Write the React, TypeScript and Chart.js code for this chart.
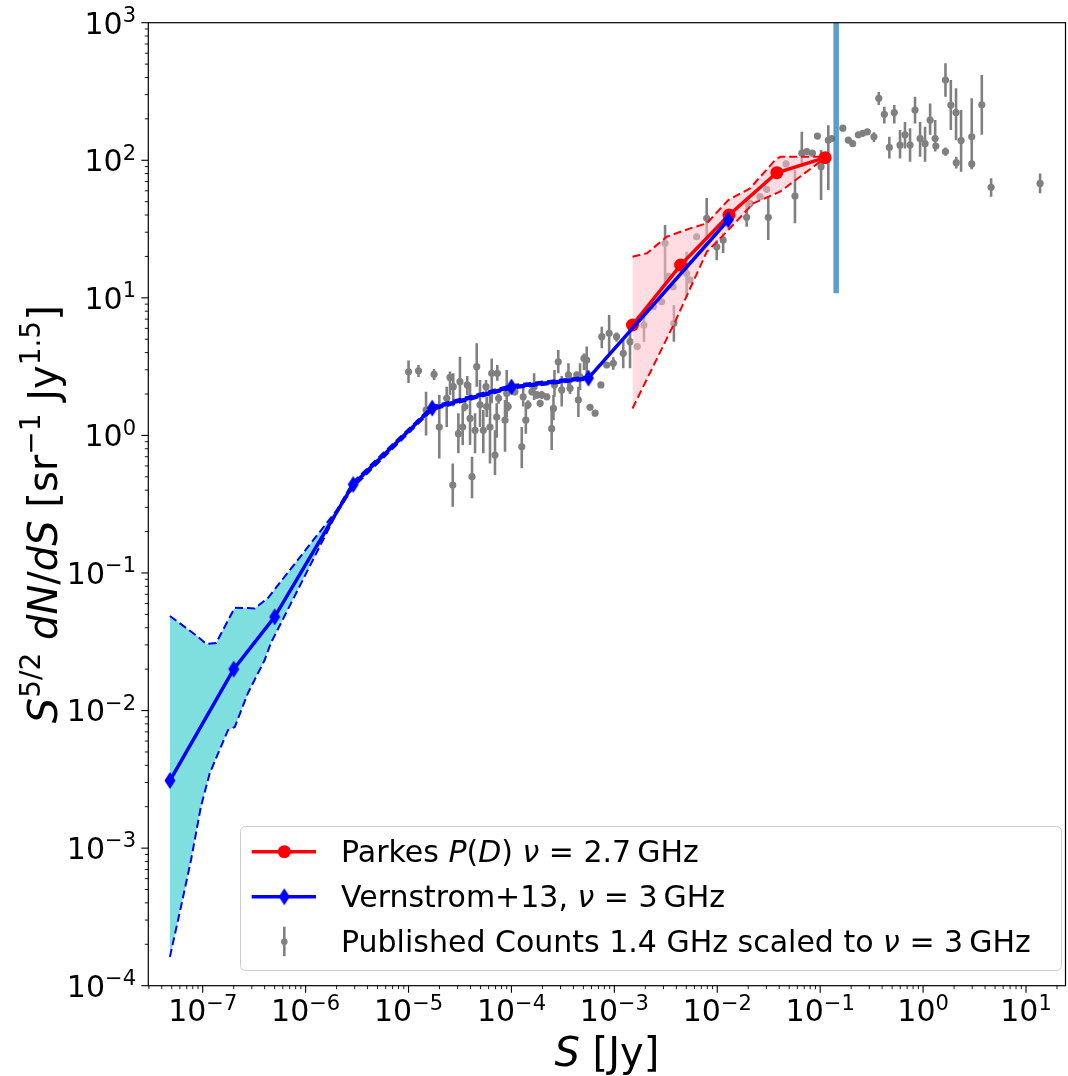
import React, { useEffect, useRef } from 'react';
import { Chart, registerables } from 'chart.js';

Chart.register(...registerables);

const W = 1068;
const H = 1076;

// ---------- axis ranges / tick labels ----------
const xMin = 2.96e-8;
const xMax = 24.2;
const yMin = 1e-4;
const yMax = 1e3;
const xDecades = [-7, -6, -5, -4, -3, -2, -1, 0, 1];
const yDecades = [-4, -3, -2, -1, 0, 1, 2, 3];

// ---------- Vernstrom+13 (3 GHz) ----------
const vernS = [4.8e-8, 2.0e-7, 5.0e-7, 2.9e-6, 1.7e-5, 1.0e-4, 5.6e-4, 1.28e-2];
const vernV = [3.1e-3, 0.020, 0.048, 0.44, 1.58, 2.25, 2.61, 36.8];

const vernUpS = [4.8e-8, 9.0e-8, 1.08e-7, 1.35e-7, 2.05e-7, 3.2e-7, 4.3e-7, 2.0e-6, 2.9e-6, 1.7e-5, 1.0e-4, 5.6e-4];
const vernUpV = [0.0487, 0.0344, 0.0305, 0.031, 0.056, 0.0553, 0.0658, 0.285, 0.46, 1.63, 2.32, 2.68];

const vernLoS = [4.8e-8, 6.15e-8, 7.7e-8, 9.6e-8, 1.17e-7, 1.76e-7, 2.05e-7, 2.75e-7, 4.0e-7, 4.6e-7, 2.0e-6, 2.9e-6, 1.7e-5, 1.0e-4, 5.6e-4];
const vernLoV = [1.62e-4, 3.75e-4, 8.2e-4, 2.0e-3, 3.5e-3, 7.2e-3, 7.6e-3, 0.0134, 0.0233, 0.031, 0.272, 0.42, 1.53, 2.19, 2.55];

// ---------- Parkes P(D) (2.7 GHz) ----------
const parkS = [1.5e-3, 4.4e-3, 1.30e-2, 3.79e-2, 0.1117];
const parkV = [6.35, 17.3, 40.0, 81.2, 104.4];

const parkUpS = [1.5e-3, 2.07e-3, 3.23e-3, 5.45e-3, 7.9e-3, 1.28e-2, 2.08e-2, 3.65e-2, 4.1e-2, 0.1, 0.1117];
const parkUpV = [19.9, 21.1, 27.8, 32, 34.8, 51.4, 62.5, 100.5, 106, 106, 104.4];

const parkLoS = [1.5e-3, 3.89e-3, 7.9e-3, 1.28e-2, 1.78e-2, 2.24e-2, 4.07e-2, 0.1, 0.1117];
const parkLoV = [1.57, 6.7, 21.6, 31.1, 40.5, 48.7, 59.1, 97.7, 104.4];

// ---------- vertical marker ----------
const vlineS = [0.143, 0.143];
const vlineV = [10.8, 1000];

// ---------- Published counts (1.4 GHz scaled to 3 GHz) ----------
const pubS = [
  1.0e-5, 1.25e-5, 1.77e-5, 1.48e-5, 1.99e-5, 2.35e-5, 2.53e-5, 2.69e-5, 3.16e-5, 3.05e-5,
  3.36e-5, 3.72e-5, 3.96e-5, 4.14e-5, 4.6e-5, 4.95e-5, 5.66e-5, 5.33e-5, 6.19e-5, 6.43e-5,
  6.92e-5, 7.29e-5, 7.5e-5, 8.66e-5, 9.0e-5, 9.3e-5, 1.26e-4, 1.30e-4, 1.38e-4, 1.45e-4,
  1.66e-4, 1.77e-4, 1.97e-4, 2.46e-4, 2.56e-4, 2.62e-4, 2.85e-4, 3.08e-4, 3.58e-4, 3.71e-4,
  4.47e-4, 4.64e-4, 5.07e-4, 5.39e-4, 5.8e-4, 6.5e-4, 7.4e-4, 7.55e-4, 8.9e-4, 8.43e-4,
  9.77e-4, 1.05e-3, 1.22e-3, 1.42e-3, 2.72e-5, 3.53e-5, 4.43e-5, 5.75e-5, 7.19e-5, 1.08e-4,
  1.58e-4, 1.90e-4, 2.21e-4, 4.31e-4, 1.67e-3, 1.94e-3, 2.39e-3, 2.88e-3, 3.11e-3, 3.35e-3,
  3.73e-3, 3.79e-3, 5.04e-3, 5.43e-3, 6.3e-3, 7.89e-3, 9.88e-3, 1.14e-2, 1.93e-2, 2.08e-2,
  2.6e-2, 3.02e-2, 3.13e-2, 4.66e-2, 5.69e-2, 6.63e-2, 7.4e-2, 8.4e-2, 9.4e-2, 0.102,
  0.12, 0.129, 0.166, 0.188, 0.207, 0.235, 0.259, 0.287, 0.333, 0.371,
  0.42, 0.525, 0.47, 0.597, 0.667, 0.747, 0.835, 0.935, 1.045, 1.17,
  1.31, 1.33, 1.65, 1.65, 1.86, 2.09, 2.1, 2.34, 2.97, 2.97,
  3.72, 4.58, 13.7,
];
const pubV = [
  2.9, 2.95, 2.78, 1.53, 1.15, 1.86, 2.64, 0.436, 2.46, 1.03,
  1.15, 2.33, 1.33, 0.501, 3.16, 1.67, 2.26, 1.09, 1.15, 2.83,
  0.72, 2.83, 1.86, 1.29, 2.02, 1.62, 0.827, 1.91, 1.29, 1.67,
  2.26, 1.97, 1.97, 1.12, 1.57, 2.33, 3.43, 2.14, 2.75, 2.2,
  1.81, 2.67, 3.63, 3.53, 1.60, 1.45, 2.33, 5.22, 5.52, 3.25,
  3.34, 5.22, 3.95, 4.8, 2.26, 1.62, 1.09, 1.62, 1.36, 2.08,
  2.08, 1.71, 1.91, 2.75, 4.42, 6.35, 8.63, 9.37, 24.9, 14.3,
  12.05, 6.53, 15.0, 13.5, 27.8, 37.9, 23.5, 26.3, 38.5, 48.6,
  54.4, 61.5, 38.5, 94.1, 55.0, 112.6, 115.7, 112.6, 150, 89.9,
  140, 144, 171, 140, 132, 153, 157, 161, 148, 282,
  216, 222, 124, 129, 153, 129, 232, 144, 132, 196,
  144, 127, 383, 115.7, 252, 222, 96.1, 139, 148, 94.1,
  253, 63.6, 67.9,
];
const pubLo = [
  2.4, 2.66, 2.53, 1.0, 0.68, 1.15, 1.97, 0.303, 1.81, 0.741,
  0.85, 1.97, 0.851, 0.349, 2.26, 1.15, 2.03, 0.741, 0.626, 1.71,
  0.515, 2.5, 1.7, 0.76, 1.36, 1.5, 0.576, 1.62, 1.03, 1.55,
  1.81, 1.85, 1.85, 0.783, 1.29, 1.91, 2.83, 1.62, 2.26, 2.0,
  1.36, 2.14, 2.99, 2.67, 1.60, 1.45, 2.33, 4.3, 3.95, 3.25,
  3.0, 4.8, 3.08, 3.08, 1.62, 1.5, 0.741, 1.36, 0.96, 1.95,
  1.95, 1.6, 1.8, 2.6, 4.42, 4.8, 8.2, 8.9, 12.05, 13.5,
  11.4, 4.8, 10.2, 12.8, 26.5, 26.3, 18.8, 21.2, 32.9, 46,
  52, 58, 26.3, 90, 34.8, 89.9, 110, 107, 143, 51.4,
  60.8, 137, 163, 133, 125, 146, 149, 153, 136, 252,
  185, 185, 103, 103, 122, 97.7, 185, 106, 97.7, 153,
  115.7, 121, 290, 108, 166, 140, 87, 82.6, 92.5, 86,
  153, 54.4, 57.5,
];
const pubHi = [
  3.5, 3.25, 3.04, 2.08, 1.97, 2.26, 2.91, 0.626, 3.73, 1.45,
  1.59, 2.7, 2.39, 0.70, 4.67, 2.53, 2.53, 1.53, 2.14, 3.63,
  1.09, 3.25, 2.0, 1.81, 2.99, 1.75, 1.15, 2.26, 1.62, 1.8,
  2.83, 2.1, 2.1, 1.57, 1.97, 2.99, 4.18, 2.7, 3.34, 2.4,
  2.26, 3.34, 3.94, 4.42, 1.60, 1.45, 2.33, 6.17, 7.51, 3.25,
  3.7, 5.6, 4.94, 5.84, 2.83, 1.75, 1.45, 1.91, 1.71, 2.2,
  2.2, 1.82, 2.02, 2.9, 4.42, 7.77, 9.1, 9.9, 33.9, 15.1,
  12.7, 8.87, 21.6, 14.2, 29.2, 53.1, 26.3, 29.5, 51.4, 51,
  57, 65, 54.4, 98, 84.9, 161, 121, 118, 157, 119,
  180, 151, 179, 147, 139, 160, 165, 169, 160, 313,
  245, 252, 148, 166, 190, 171, 290, 190, 175, 259,
  196, 133, 507, 124, 383, 334, 106, 232, 282, 103,
  417, 73.9, 80.3,
];

// ---------- styling ----------
const FAM = '"DejaVu Sans"';
const R = (s: number) => `${s}px ${FAM}`;
const I = (s: number) => `italic ${s}px ${FAM}`;
const RED = '#ff0000';
const BLUE = '#0000ff';
const GREY = '#808080';
const CYAN_FILL = 'rgba(0,191,191,0.5)';
const PINK_FILL = 'rgba(255,192,203,0.55)';
const VLINE = 'rgba(31,119,180,0.72)';

function decadeExp(v: number): number | null {
  if (!(v > 0)) return null;
  const e = Math.log10(v);
  const r = Math.round(e);
  if (Math.abs(e - r) > 1e-6) return null;
  return r;
}
const expText = (e: number) => (e < 0 ? '\u2212' + String(-e) : String(e));

const pts = (xs: number[], ys: number[]) => xs.map((x, i) => ({ x, y: ys[i] }));

type Part = { t: string; f: string; dy?: number };
function richWidth(ctx: CanvasRenderingContext2D, parts: Part[]) {
  let w = 0;
  for (const p of parts) {
    ctx.font = p.f;
    w += ctx.measureText(p.t).width;
  }
  return w;
}
function rich(ctx: CanvasRenderingContext2D, parts: Part[], x: number, y: number) {
  let cx = x;
  for (const p of parts) {
    ctx.font = p.f;
    ctx.fillText(p.t, cx, y + (p.dy || 0));
    cx += ctx.measureText(p.t).width;
  }
}

function makeDiamond(): HTMLCanvasElement {
  const c = document.createElement('canvas');
  c.width = 12;
  c.height = 18;
  const g = c.getContext('2d')!;
  g.fillStyle = BLUE;
  g.beginPath();
  g.moveTo(6, 0.5);
  g.lineTo(11.5, 9);
  g.lineTo(6, 17.5);
  g.lineTo(0.5, 9);
  g.closePath();
  g.fill();
  return c;
}

export default function App() {
  const ref = useRef<HTMLCanvasElement>(null);

  useEffect(() => {
    document.body.style.margin = '0';
    const canvas = ref.current!;
    const diamond = makeDiamond();

    const errData: any[] = [];
    pubS.forEach((s, i) => {
      errData.push({ x: s, y: pubLo[i] });
      errData.push({ x: s, y: pubHi[i] });
      errData.push({ x: s, y: null });
    });

    const decor = {
      id: 'decor',
      afterDraw(chart: any) {
        const ctx: CanvasRenderingContext2D = chart.ctx;
        const a = chart.chartArea;
        const xs = chart.scales.x;
        const ys = chart.scales.y;
        ctx.save();
        ctx.strokeStyle = '#000';
        // x tick marks
        for (let e = -8; e <= 2; e++) {
          for (let m = 1; m <= 9; m++) {
            const v = m * Math.pow(10, e);
            if (v < xs.min || v > xs.max) continue;
            const px = xs.getPixelForValue(v);
            const len = m === 1 ? 7 : 3.5;
            ctx.lineWidth = m === 1 ? 1.1 : 0.9;
            ctx.beginPath();
            ctx.moveTo(px, a.bottom);
            ctx.lineTo(px, a.bottom + len);
            ctx.stroke();
          }
        }
        // y tick marks
        for (let e = -5; e <= 3; e++) {
          for (let m = 1; m <= 9; m++) {
            const v = m * Math.pow(10, e);
            if (v < ys.min * 0.999 || v > ys.max * 1.001) continue;
            const py = ys.getPixelForValue(v);
            const len = m === 1 ? 7 : 3.5;
            ctx.lineWidth = m === 1 ? 1.1 : 0.9;
            ctx.beginPath();
            ctx.moveTo(a.left, py);
            ctx.lineTo(a.left - len, py);
            ctx.stroke();
          }
        }
        // frame
        ctx.lineWidth = 1.2;
        ctx.strokeRect(a.left, a.top, a.right - a.left, a.bottom - a.top);

        ctx.fillStyle = '#000';
        ctx.textBaseline = 'alphabetic';
        ctx.textAlign = 'left';

        // tick labels (from the scale's own ticks)
        for (const t of xs.ticks) {
          const e = decadeExp(t.value);
          if (e === null || !xDecades.includes(e)) continue;
          const parts: Part[] = [
            { t: '10', f: R(30) },
            { t: expText(e), f: R(21), dy: -11.5 },
          ];
          const w = richWidth(ctx, parts);
          rich(ctx, parts, xs.getPixelForValue(t.value) - w / 2, 1021);
        }
        for (const t of ys.ticks) {
          const e = decadeExp(t.value);
          if (e === null || !yDecades.includes(e)) continue;
          const parts: Part[] = [
            { t: '10', f: R(30) },
            { t: expText(e), f: R(21), dy: -11.5 },
          ];
          const w = richWidth(ctx, parts);
          rich(ctx, parts, 136 - w, ys.getPixelForValue(t.value) + 10.8);
        }

        // axis titles
        const xt: Part[] = [
          { t: 'S', f: I(40) },
          { t: ' [Jy]', f: R(40) },
        ];
        const xw = richWidth(ctx, xt);
        rich(ctx, xt, (a.left + a.right) / 2 - xw / 2, 1066);

        const yt: Part[] = [
          { t: 'S', f: I(40) },
          { t: '5/2', f: R(28), dy: -17 },
          { t: ' ', f: R(40) },
          { t: 'dN', f: I(40) },
          { t: '/', f: R(40) },
          { t: 'dS', f: I(40) },
          { t: ' [sr', f: R(40) },
          { t: '\u22121', f: R(28), dy: -17 },
          { t: ' Jy', f: R(40) },
          { t: '1.5', f: R(28), dy: -17 },
          { t: ']', f: R(40) },
        ];
        const yw = richWidth(ctx, yt);
        ctx.save();
        ctx.translate(57, (a.top + a.bottom) / 2 + 10);
        ctx.rotate(-Math.PI / 2);
        rich(ctx, yt, -yw / 2, 0);
        ctx.restore();

        // legend
        const bx = 240.5, by = 826.5, bw = 821, bh = 144;
        ctx.beginPath();
        (ctx as any).roundRect(bx, by, bw, bh, 5);
        ctx.fillStyle = 'rgba(255,255,255,0.8)';
        ctx.fill();
        ctx.strokeStyle = '#cccccc';
        ctx.lineWidth = 1;
        ctx.stroke();

        const hx0 = 251.7, hx1 = 316, hc = 284.3, tx = 341;
        const rows = [851.7, 896.7, 941.7];
        ctx.strokeStyle = RED;
        ctx.lineWidth = 3.5;
        ctx.beginPath();
        ctx.moveTo(hx0, rows[0]);
        ctx.lineTo(hx1, rows[0]);
        ctx.stroke();
        ctx.fillStyle = RED;
        ctx.beginPath();
        ctx.arc(hc, rows[0], 6.5, 0, Math.PI * 2);
        ctx.fill();
        ctx.strokeStyle = BLUE;
        ctx.beginPath();
        ctx.moveTo(hx0, rows[1]);
        ctx.lineTo(hx1, rows[1]);
        ctx.stroke();
        ctx.drawImage(diamond, hc - diamond.width / 2, rows[1] - diamond.height / 2);
        ctx.strokeStyle = GREY;
        ctx.lineWidth = 2.6;
        ctx.beginPath();
        ctx.moveTo(hc, rows[2] - 15);
        ctx.lineTo(hc, rows[2] + 14.5);
        ctx.stroke();
        ctx.fillStyle = GREY;
        ctx.beginPath();
        ctx.arc(hc, rows[2], 3.3, 0, Math.PI * 2);
        ctx.fill();

        ctx.fillStyle = '#000';
        const off = 10;
        rich(ctx, [
          { t: 'Parkes ', f: R(30) },
          { t: 'P', f: I(30) },
          { t: '(', f: R(30) },
          { t: 'D', f: I(30) },
          { t: ')', f: R(30) },
          { t: ' ', f: R(30) },
          { t: '\u03BD', f: I(30) },
          { t: ' = ', f: R(30) },
          { t: '2.7', f: R(30) },
          { t: '\u2009', f: R(30) },
          { t: 'GHz', f: R(30) },
        ], tx, rows[0] + off);
        rich(ctx, [
          { t: 'Vernstrom+13, ', f: R(30) },
          { t: '\u03BD', f: I(30) },
          { t: ' = ', f: R(30) },
          { t: '3', f: R(30) },
          { t: '\u2009', f: R(30) },
          { t: 'GHz', f: R(30) },
        ], tx, rows[1] + off);
        rich(ctx, [
          { t: 'Published Counts 1.4 GHz scaled to ', f: R(30) },
          { t: '\u03BD', f: I(30) },
          { t: ' = ', f: R(30) },
          { t: '3', f: R(30) },
          { t: '\u2009', f: R(30) },
          { t: 'GHz', f: R(30) },
        ], tx, rows[2] + off);
        ctx.restore();
      },
    };

    const chart = new Chart(canvas, {
      type: 'line',
      data: {
        datasets: [
          {
            label: 'vline',
            data: pts(vlineS, vlineV),
            borderColor: VLINE,
            borderWidth: 5.5,
            pointRadius: 0,
            fill: false,
            order: 0,
          },
          {
            label: 'Vernstrom+13',
            data: pts(vernS, vernV),
            borderColor: BLUE,
            backgroundColor: BLUE,
            borderWidth: 3.5,
            pointStyle: diamond as any,
            pointRadius: 6,
            fill: false,
            order: 1,
          },
          {
            label: 'vern upper',
            data: pts(vernUpS, vernUpV),
            borderColor: BLUE,
            borderWidth: 2,
            borderDash: [8, 4],
            pointRadius: 0,
            backgroundColor: CYAN_FILL,
            fill: '+1',
            order: 3,
          },
          {
            label: 'vern lower',
            data: pts(vernLoS, vernLoV),
            borderColor: BLUE,
            borderWidth: 2,
            borderDash: [8, 4],
            pointRadius: 0,
            fill: false,
            order: 2,
          },
          {
            label: 'Parkes',
            data: pts(parkS, parkV),
            borderColor: RED,
            backgroundColor: RED,
            borderWidth: 3.5,
            pointStyle: 'circle',
            pointRadius: 6.5,
            pointBorderWidth: 0,
            fill: false,
            order: 4,
          },
          {
            label: 'parkes upper',
            data: pts(parkUpS, parkUpV),
            borderColor: RED,
            borderWidth: 2,
            borderDash: [8, 4],
            pointRadius: 0,
            backgroundColor: PINK_FILL,
            fill: '+1',
            order: 6,
          },
          {
            label: 'parkes lower',
            data: pts(parkLoS, parkLoV),
            borderColor: RED,
            borderWidth: 2,
            borderDash: [8, 4],
            pointRadius: 0,
            fill: false,
            order: 5,
          },
          {
            label: 'Published Counts',
            data: pts(pubS, pubV),
            showLine: false,
            backgroundColor: GREY,
            borderColor: GREY,
            pointRadius: 3.6,
            pointBorderWidth: 0,
            fill: false,
            order: 7,
          },
          {
            label: 'errbars',
            data: errData,
            borderColor: GREY,
            borderWidth: 2.6,
            pointRadius: 0,
            spanGaps: false,
            fill: false,
            order: 8,
          },
        ] as any,
      },
      options: {
        responsive: false,
        maintainAspectRatio: false,
        animation: false,
        devicePixelRatio: 1,
        events: [],
        layout: { autoPadding: false, padding: { top: 22.7, right: 2.5, left: 0, bottom: 0 } },
        plugins: {
          legend: { display: false },
          tooltip: { enabled: false },
        },
        scales: {
          x: {
            type: 'logarithmic',
            min: xMin,
            max: xMax,
            grid: { display: false, drawTicks: false },
            border: { display: false },
            ticks: { display: false, autoSkip: false },
            afterFit: (s: any) => {
              s.height = H - 985.7;
            },
          },
          y: {
            type: 'logarithmic',
            min: yMin,
            max: yMax,
            grid: { display: false, drawTicks: false },
            border: { display: false },
            ticks: { display: false, autoSkip: false },
            afterFit: (s: any) => {
              s.width = 148.3;
            },
          },
        } as any,
      },
      plugins: [decor],
    });

    return () => chart.destroy();
  }, []);

  return (
    <div style={{ width: W, height: H, position: 'relative' }}>
      <canvas ref={ref} width={W} height={H} style={{ width: W, height: H, display: 'block' }} />
    </div>
  );
}
